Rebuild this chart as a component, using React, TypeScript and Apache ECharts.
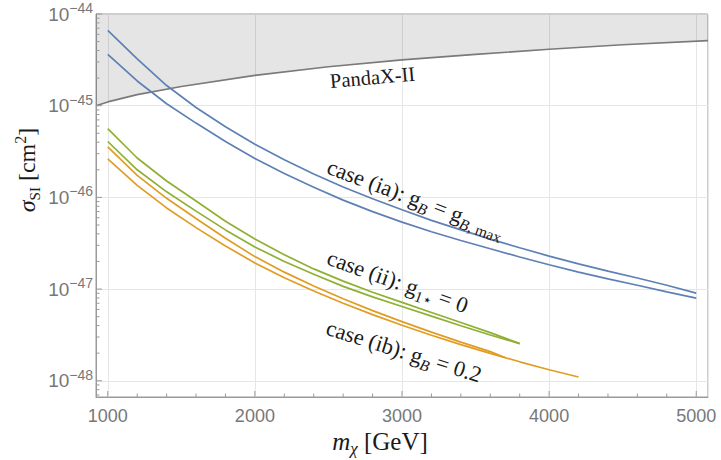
import React, { useEffect, useRef } from "react";
import * as echarts from "echarts";

// ---- data, sigma in cm^2 ----
const massToFive = [1000, 1200, 1400, 1600, 1800, 2000, 2200, 2400, 2600, 2800, 3000, 3200, 3400, 3600, 3800, 4000, 4200, 4400, 4600, 4800, 5000];
const caseIaUpper = [6.61e-45, 3.24e-45, 1.66e-45, 9.55e-46, 5.89e-46, 3.8e-46, 2.57e-46, 1.8e-46, 1.3e-46, 9.66e-47, 7.33e-47, 5.62e-47, 4.42e-47, 3.51e-47, 2.82e-47, 2.29e-47, 1.88e-47, 1.57e-47, 1.32e-47, 1.1e-47, 9.04e-48];
const caseIaLower = [3.63e-45, 1.86e-45, 1.05e-45, 6.46e-46, 4.07e-46, 2.66e-46, 1.82e-46, 1.29e-46, 9.33e-47, 7.0e-47, 5.37e-47, 4.22e-47, 3.39e-47, 2.75e-47, 2.24e-47, 1.84e-47, 1.53e-47, 1.29e-47, 1.1e-47, 9.33e-48, 7.98e-48];

const massToThreeEight = [1000, 1200, 1400, 1600, 1800, 2000, 2200, 2400, 2600, 2800, 3000, 3200, 3400, 3600, 3800];
const caseIiUpper = [5.62e-46, 2.69e-46, 1.51e-46, 9.12e-47, 5.5e-47, 3.51e-47, 2.37e-47, 1.66e-47, 1.22e-47, 9.23e-48, 7.16e-48, 5.56e-48, 4.32e-48, 3.35e-48, 2.54e-48];
const caseIiLower = [4.07e-46, 2.0e-46, 1.15e-46, 7.08e-47, 4.42e-47, 2.88e-47, 2.0e-47, 1.45e-47, 1.07e-47, 8.22e-48, 6.46e-48, 5.07e-48, 3.98e-48, 3.16e-48, 2.54e-48];

const massIbUpper = [1000, 1200, 1400, 1600, 1800, 2000, 2200, 2400, 2600, 2800, 3000, 3200, 3400, 3600, 3700];
const caseIbUpper = [3.55e-46, 1.74e-46, 9.77e-47, 5.89e-47, 3.59e-47, 2.26e-47, 1.53e-47, 1.08e-47, 7.85e-48, 5.82e-48, 4.42e-48, 3.39e-48, 2.64e-48, 2.08e-48, 1.79e-48];
const massIbLower = [1000, 1200, 1400, 1600, 1800, 2000, 2200, 2400, 2600, 2800, 3000, 3200, 3400, 3600, 3800, 4000, 4200];
const caseIbLower = [2.63e-46, 1.35e-46, 7.67e-47, 4.68e-47, 2.95e-47, 1.93e-47, 1.33e-47, 9.53e-48, 7.0e-48, 5.26e-48, 4.03e-48, 3.14e-48, 2.48e-48, 1.99e-48, 1.61e-48, 1.32e-48, 1.1e-48];

const pandaxMass = [920, 1000, 1200, 1500, 2000, 2500, 3000, 3500, 4000, 4500, 5080];
const pandaxSigma = [1.0e-45, 1.1e-45, 1.32e-45, 1.62e-45, 2.14e-45, 2.66e-45, 3.16e-45, 3.63e-45, 4.12e-45, 4.62e-45, 5.13e-45];

// ---- axes ----
// ECharts rounds very small numbers to 0, so the y axis works in units of 1e-48 cm^2.
const UNIT_EXP = -48;
const UNIT = 1e-48;
const X_MIN = 920;
const X_MAX = 5080;
const Y_MIN_EXP = -48.177;
const Y_MAX_EXP = -44;
const xMajorTicks = [1000, 2000, 3000, 4000, 5000];
const xMinorTicks = [1200, 1400, 1600, 1800, 2200, 2400, 2600, 2800, 3200, 3400, 3600, 3800, 4200, 4400, 4600, 4800];
const yDecades = [-49, -48, -47, -46, -45];
const yMantissas = [2, 3, 4, 5, 6, 7, 8, 9];
const yMajorExps = [-48, -47, -46, -45, -44];

const BLUE = "#5e81b5";
const GREEN = "#8fb032";
const ORANGE = "#e19c24";
const FRAME = "#9a9a9a";
const SERIF = '"Liberation Serif", "DejaVu Serif", serif';
const SANS = '"Liberation Sans", Arial, sans-serif';

const zip = (xs: number[], ys: number[]) => xs.map((x, i) => [x, ys[i] / UNIT]);

export default function App() {
  const ref = useRef<HTMLDivElement>(null);
  useEffect(() => {
    document.body.style.margin = "0";
    if (!ref.current) return;
    const chart = echarts.init(ref.current, null, { renderer: "svg" });

    const Y_MIN = Math.pow(10, Y_MIN_EXP - UNIT_EXP);
    const Y_MAX = Math.pow(10, Y_MAX_EXP - UNIT_EXP);
    const yMinorTicks: number[] = [];
    yDecades.forEach((d) => yMantissas.forEach((m) => {
      const v = m * Math.pow(10, d - UNIT_EXP);
      if (v > Y_MIN && v < Y_MAX) yMinorTicks.push(v);
    }));
    const tickData: number[][] = [
      ...xMajorTicks.map((v) => [v, Y_MIN, 0]),
      ...xMinorTicks.map((v) => [v, Y_MIN, 1]),
      ...yMajorExps.map((e) => [X_MIN, Math.pow(10, e - UNIT_EXP), 2]),
      ...yMinorTicks.map((v) => [X_MIN, v, 3]),
    ];

    const lineSeries = (name: string, data: number[][], color: string) => ({
      name,
      type: "line",
      data,
      showSymbol: false,
      symbol: "none",
      lineStyle: { color, width: 1.7 },
      z: 3,
    });

    const FS = 22.5;
    const baseRich = {
      n: { fontFamily: SERIF, fontSize: FS, fontStyle: "normal", lineHeight: 30, fill: "#1a1a1a" },
      bi: { fontFamily: SERIF, fontSize: 15.5, fontStyle: "italic", lineHeight: 16, verticalAlign: "bottom", fill: "#1a1a1a" },
      sr: { fontFamily: SERIF, fontSize: 15.5, fontStyle: "normal", lineHeight: 16, verticalAlign: "bottom", fill: "#1a1a1a" },
    };
    const deg = Math.PI / 180;
    const pandaxData = zip(pandaxMass, pandaxSigma);

    chart.setOption({
      animation: false,
      grid: { left: 96, right: 13, top: 14, bottom: 63, show: true, borderColor: FRAME, borderWidth: 1 },
      xAxis: {
        type: "value",
        min: X_MIN,
        max: X_MAX,
        axisLine: { onZero: false, lineStyle: { color: FRAME, width: 1 } },
        axisTick: { show: false },
        splitLine: { show: true, lineStyle: { color: "#e6e6e6", width: 1 } },
        axisLabel: {
          color: "#777",
          fontFamily: SANS,
          fontSize: 18,
          margin: 10,
          formatter: (v: number) => (Math.abs(v % 1000) < 1e-6 ? String(v) : ""),
        },
      },
      yAxis: {
        type: "log",
        logBase: 10,
        min: Y_MIN,
        max: Y_MAX,
        axisLine: { show: true, lineStyle: { color: FRAME, width: 1 } },
        axisTick: { show: false },
        splitLine: { show: true, lineStyle: { color: "#e6e6e6", width: 1 } },
        axisLabel: {
          margin: 3,
          formatter: (v: number) => {
            const l = Math.log10(v);
            const e = Math.round(l);
            if (Math.abs(l - e) > 1e-6) return "";
            return `{b|10}{s|\u2212${-(e + UNIT_EXP)}}`;
          },
          rich: {
            b: { color: "#777", fontFamily: SANS, fontSize: 19, lineHeight: 26 },
            s: { color: "#777", fontFamily: SANS, fontSize: 14, lineHeight: 12, verticalAlign: "top" },
          },
        },
      },
      series: [
        {
          name: "PandaX-II region",
          type: "custom",
          data: [pandaxData[0]],
          encode: { x: 0, y: 1 },
          silent: true,
          z: 1,
          renderItem: (_params: any, api: any) => {
            const pts = pandaxData.map((d) => api.coord(d));
            const topRight = api.coord([X_MAX, Y_MAX]);
            const topLeft = api.coord([X_MIN, Y_MAX]);
            return {
              type: "polygon",
              shape: { points: [...pts, topRight, topLeft] },
              style: { fill: "rgba(0,0,0,0.1)", stroke: "none" },
            };
          },
        },
        {
          name: "PandaX-II",
          type: "line",
          data: pandaxData,
          showSymbol: false,
          symbol: "none",
          lineStyle: { color: "#7a7a7a", width: 1.6 },
          z: 2,
        },
        lineSeries("case (ia) upper", zip(massToFive, caseIaUpper), BLUE),
        lineSeries("case (ia) lower", zip(massToFive, caseIaLower), BLUE),
        lineSeries("case (ii) upper", zip(massToThreeEight, caseIiUpper), GREEN),
        lineSeries("case (ii) lower", zip(massToThreeEight, caseIiLower), GREEN),
        lineSeries("case (ib) upper", zip(massIbUpper, caseIbUpper), ORANGE),
        lineSeries("case (ib) lower", zip(massIbLower, caseIbLower), ORANGE),
        {
          name: "ticks",
          type: "custom",
          data: tickData,
          encode: { x: 0, y: 1 },
          silent: true,
          z: 4,
          renderItem: (_params: any, api: any) => {
            const kind = api.value(2);
            const p = api.coord([api.value(0), api.value(1)]);
            const len = kind === 0 || kind === 2 ? 6 : 3.5;
            const shape = kind <= 1
              ? { x1: p[0], y1: p[1], x2: p[0], y2: p[1] - len }
              : { x1: p[0], y1: p[1], x2: p[0] + len, y2: p[1] };
            return { type: "line", shape, style: { stroke: FRAME, lineWidth: 1 } };
          },
        },
      ],
      graphic: [
        {
          type: "text", x: 330, y: 81, rotation: 5 * deg, z: 10,
          style: { text: "PandaX-II", fontFamily: SERIF, fontSize: 20.5, fill: "#1a1a1a", align: "left", verticalAlign: "middle" },
        },
        {
          type: "text", x: 328, y: 166, rotation: -20.5 * deg, z: 10,
          style: { text: "{n|case (ia): g}{bi|B}{n| = g}{bi|B}{sr|, max}", rich: baseRich, align: "left", verticalAlign: "middle" },
        },
        {
          type: "text", x: 328, y: 257, rotation: -19.5 * deg, z: 10,
          style: { text: "{n|case (ii): g}{sr|1\u22c6}{n| = 0}", rich: baseRich, align: "left", verticalAlign: "middle" },
        },
        {
          type: "text", x: 327, y: 327, rotation: -17.5 * deg, z: 10,
          style: { text: "{n|case (ib): g}{bi|B}{n| = 0.2}", rich: baseRich, align: "left", verticalAlign: "middle" },
        },
        {
          type: "text", x: 380, y: 441, z: 10,
          style: {
            text: "{m|m}{c|\u03c7}{n| [GeV]}",
            align: "center", verticalAlign: "middle",
            rich: {
              m: { fontFamily: SERIF, fontSize: 25, fontStyle: "italic", lineHeight: 32, fill: "#1a1a1a" },
              c: { fontFamily: SERIF, fontSize: 17, fontStyle: "italic", lineHeight: 17, verticalAlign: "bottom", fill: "#1a1a1a" },
              n: { fontFamily: SERIF, fontSize: 25, fontStyle: "normal", lineHeight: 32, fill: "#1a1a1a" },
            },
          },
        },
        {
          type: "text", x: 27, y: 170, rotation: 90 * deg, z: 10,
          style: {
            text: "{g|\u03c3}{s|SI}{n| [cm}{p|2}{n|]}",
            align: "center", verticalAlign: "middle",
            rich: {
              g: { fontFamily: SERIF, fontSize: 24, fontStyle: "italic", lineHeight: 30, fill: "#1a1a1a" },
              s: { fontFamily: SERIF, fontSize: 15, fontStyle: "normal", lineHeight: 16, verticalAlign: "bottom", fill: "#1a1a1a" },
              n: { fontFamily: SERIF, fontSize: 24, fontStyle: "normal", lineHeight: 30, fill: "#1a1a1a" },
              p: { fontFamily: SERIF, fontSize: 16, fontStyle: "normal", lineHeight: 14, verticalAlign: "top", fill: "#1a1a1a" },
            },
          },
        },
      ],
    });
    return () => chart.dispose();
  }, []);
  return <div ref={ref} style={{ width: 721, height: 460 }} />;
}
